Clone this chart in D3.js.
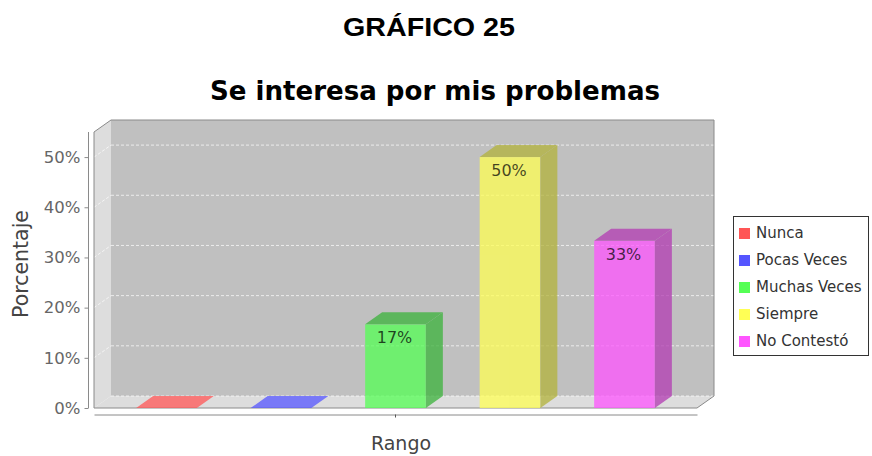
<!DOCTYPE html>
<html>
<head>
<meta charset="utf-8">
<script src="https://cdn.jsdelivr.net/npm/d3@7"></script>
<style>
  body { margin: 0; background: #fff; }
  svg { display: block; }
</style>
</head>
<body>
<div id="chart"></div>
<script>
// data
const series = ["Nunca", "Pocas Veces", "Muchas Veces", "Siempre", "No Contestó"];
const values = [0, 0, 16.67, 50, 33.33];
const colors = ["#ff5555", "#5555ff", "#55ff55", "#ffff55", "#ff55ff"];
const yTicks = [0, 10, 20, 30, 40, 50];
const category = ["Rango"];

const W = 872, H = 456;
// plot front face + 3D depth
const x0 = 94, x1 = 697, yTop = 132, yBot = 408;
const dx = 17, dy = 12;

let svg = d3.select("#chart").append("svg")
  .attr("width", W)
  .attr("height", H);

// titles
svg.append("text")
  .attr("x", 429).attr("y", 36)
  .attr("text-anchor", "middle")
  .attr("textLength", 172).attr("lengthAdjust", "spacingAndGlyphs")
  .style("font-family", "Liberation Sans, Arial, sans-serif")
  .style("font-weight", "bold").style("font-size", "25px")
  .text("GRÁFICO 25");

svg.append("text")
  .attr("x", 435).attr("y", 100)
  .attr("text-anchor", "middle")
  .attr("textLength", 450).attr("lengthAdjust", "spacingAndGlyphs")
  .style("font-family", "DejaVu Sans, sans-serif")
  .style("font-weight", "bold").style("font-size", "27px")
  .text("Se interesa por mis problemas");

// scales
let y = d3.scaleLinear().domain([0, 55]).range([yBot, yTop]);
let x = d3.scaleBand().domain(series).range([x0, x1])
  .paddingInner(0.47).paddingOuter(0.368);
let cat = d3.scaleBand().domain(category).range([x0, x1]);

// walls
let plot = svg.append("g");
plot.append("polygon") // side wall
  .attr("points", [[x0, yTop], [x0 + dx, yTop - dy], [x0 + dx, yBot - dy], [x0, yBot]].join(" "))
  .attr("fill", "#dddddd");
plot.append("rect") // back wall
  .attr("x", x0 + dx).attr("y", yTop - dy)
  .attr("width", x1 - x0).attr("height", yBot - yTop)
  .attr("fill", "#c0c0c0");
plot.append("polygon") // floor
  .attr("points", [[x0, yBot], [x0 + dx, yBot - dy], [x1 + dx, yBot - dy], [x1, yBot]].join(" "))
  .attr("fill", "#dddddd");

// gridlines
yTicks.forEach(function (t) {
  plot.append("line")
    .attr("x1", x0 + dx).attr("x2", x1 + dx)
    .attr("y1", y(t) - dy).attr("y2", y(t) - dy)
    .attr("stroke", "#ffffff").attr("stroke-opacity", 0.7)
    .attr("stroke-dasharray", "3,2");
  if (t > 0) {
    plot.append("line")
      .attr("x1", x0).attr("x2", x0 + dx)
      .attr("y1", y(t)).attr("y2", y(t) - dy)
      .attr("stroke", "#ffffff").attr("stroke-opacity", 0.7)
      .attr("stroke-dasharray", "3,2");
  }
});

// outline
plot.append("path")
  .attr("d", "M" + x0 + "," + yBot + "L" + x0 + "," + yTop +
    "L" + (x0 + dx) + "," + (yTop - dy) + "L" + (x1 + dx) + "," + (yTop - dy) +
    "L" + (x1 + dx) + "," + (yBot - dy) + "L" + x1 + "," + yBot + "Z")
  .attr("fill", "none").attr("stroke", "#8a8a8a");

// bars
for (let i = 0; i < series.length; i++) {
  let bx = x(series[i]), bw = x.bandwidth();
  let by = y(values[i]);
  let base = d3.rgb(colors[i]);
  let dark = d3.rgb(base.r * 0.7, base.g * 0.7, base.b * 0.7);
  let g = plot.append("g").attr("opacity", 0.75);

  if (values[i] > 0) {
    g.append("rect")
      .attr("x", bx).attr("y", by)
      .attr("width", bw).attr("height", yBot - by)
      .attr("fill", base);
    g.append("polygon")
      .attr("points", [[bx + bw, yBot], [bx + bw + dx, yBot - dy], [bx + bw + dx, by - dy], [bx + bw, by]].join(" "))
      .attr("fill", dark);
  }
  g.append("polygon")
    .attr("points", [[bx, by], [bx + dx, by - dy], [bx + bw + dx, by - dy], [bx + bw, by]].join(" "))
    .attr("fill", values[i] > 0 ? dark : base);

  if (values[i] > 0) {
    svg.append("text")
      .attr("x", bx + bw / 2 - 1).attr("y", by + 19)
      .attr("text-anchor", "middle")
      .attr("fill", "#000").attr("fill-opacity", 0.72)
      .style("font-family", "DejaVu Sans, sans-serif")
      .style("font-size", "16px")
      .text(d3.format(".0f")(values[i]) + "%");
  }
}

// y axis
let yAxis = d3.axisLeft(y)
  .tickValues(yTicks)
  .tickFormat(d => d + "%")
  .tickSize(4).tickSizeOuter(0);
let ya = svg.append("g")
  .attr("transform", "translate(88.5,0)")
  .call(yAxis);
ya.select(".domain").attr("stroke", "#8a8a8a")
  .attr("d", "M0," + yTop + "V" + yBot);
ya.selectAll(".tick line").attr("stroke", "#8a8a8a");
ya.selectAll(".tick text")
  .attr("x", -8)
  .attr("fill", "#666")
  .style("font-family", "DejaVu Sans, sans-serif")
  .style("font-size", "16.5px");

svg.append("text")
  .attr("transform", "translate(28,264) rotate(-90)")
  .attr("text-anchor", "middle")
  .attr("fill", "#444")
  .style("font-family", "DejaVu Sans, sans-serif")
  .style("font-size", "20.5px")
  .text("Porcentaje");

// category axis
let xAxis = d3.axisBottom(cat).tickSize(3).tickSizeOuter(0).tickFormat("");
let xa = svg.append("g")
  .attr("transform", "translate(0,414.5)")
  .call(xAxis);
xa.select(".domain").attr("stroke", "#8a8a8a");
xa.selectAll(".tick line").attr("stroke", "#555");

svg.append("text")
  .attr("x", 401).attr("y", 450)
  .attr("text-anchor", "middle")
  .attr("fill", "#444")
  .style("font-family", "DejaVu Sans, sans-serif")
  .style("font-size", "19px")
  .text("Rango");

// legend
let lg = svg.append("g").attr("transform", "translate(733,216)");
lg.append("rect")
  .attr("x", 0.5).attr("y", 0.5)
  .attr("width", 135).attr("height", 139)
  .attr("fill", "#fff").attr("stroke", "#333");
series.forEach(function (s, i) {
  let cy = 17 + i * 27;
  lg.append("rect")
    .attr("x", 6).attr("y", cy - 5)
    .attr("width", 11).attr("height", 11)
    .attr("fill", colors[i]);
  lg.append("text")
    .attr("x", 23).attr("y", cy)
    .attr("dy", "0.35em")
    .attr("fill", "#333")
    .style("font-family", "DejaVu Sans, sans-serif")
    .style("font-size", "15px")
    .text(s);
});
</script>
</body>
</html>
